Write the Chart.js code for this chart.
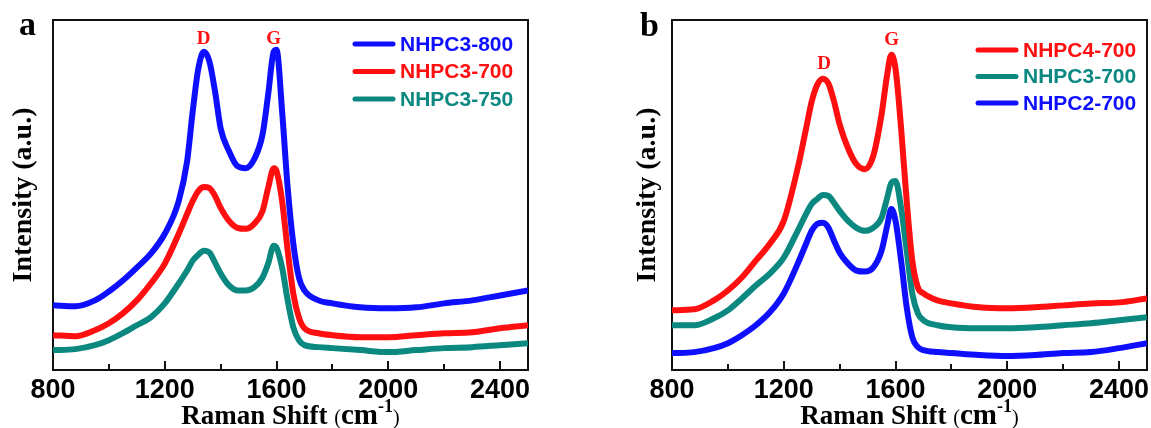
<!DOCTYPE html>
<html>
<head>
<meta charset="utf-8">
<script src="https://cdn.jsdelivr.net/npm/chart.js@4.4.0/dist/chart.umd.min.js"></script>
<style>
  html, body { margin: 0; padding: 0; background: #fff; }
  #wrap { position: relative; width: 1151px; height: 428px; }
  canvas { position: absolute; top: 0; }
  #chartA { left: 0; }
  #chartB { left: 576px; }
</style>
</head>
<body>
<div id="wrap">
  <canvas id="chartA" width="576" height="428"></canvas>
  <canvas id="chartB" width="575" height="428"></canvas>
</div>
<script>
// raman shift (cm-1) sample points
const ramanA = [800, 880, 950, 1000, 1050, 1100, 1150, 1200, 1250, 1280, 1300, 1320, 1340, 1360, 1380, 1400, 1430, 1460, 1490, 1520, 1550, 1570, 1590, 1600, 1620, 1640, 1660, 1680, 1700, 1750, 1800, 1900, 2000, 2100, 2200, 2300, 2400, 2500];
const ramanB = [800, 880, 950, 1000, 1050, 1100, 1150, 1200, 1250, 1280, 1300, 1320, 1340, 1360, 1380, 1400, 1430, 1460, 1490, 1520, 1550, 1570, 1585, 1600, 1620, 1640, 1660, 1680, 1700, 1750, 1800, 1900, 2000, 2100, 2200, 2300, 2400, 2500];

// intensities (a.u.), panel a
const nhpc3_800 = [65, 64, 70, 79, 90, 103, 117, 137, 170, 210, 260, 303, 320, 310, 280, 243, 220, 205, 203, 212, 237, 277, 320, 322, 260, 183, 127, 93, 80, 70, 67, 63, 62, 63, 67, 70, 75, 80];
const nhpc3_700a = [35, 34, 40, 47, 57, 70, 87, 107, 137, 157, 170, 180, 184, 183, 175, 163, 150, 143, 142, 147, 160, 183, 203, 200, 170, 120, 77, 53, 42, 37, 35, 33, 33, 35, 37, 38, 42, 45];
const nhpc3_750 = [20, 21, 25, 30, 37, 45, 53, 67, 87, 100, 110, 116, 120, 118, 108, 97, 85, 80, 80, 83, 93, 107, 125, 123, 103, 70, 43, 30, 25, 23, 22, 20, 18, 20, 22, 23, 25, 27];

// intensities (a.u.), panel b
const nhpc4_700 = [60, 61, 70, 80, 93, 110, 127, 150, 203, 243, 270, 287, 293, 288, 270, 247, 223, 207, 202, 215, 257, 297, 317, 303, 243, 170, 110, 83, 77, 70, 67, 63, 62, 63, 65, 67, 68, 72];
const nhpc3_700b = [45, 45, 52, 60, 72, 85, 97, 113, 140, 157, 167, 172, 176, 175, 168, 160, 150, 143, 140, 143, 153, 173, 188, 190, 163, 120, 77, 57, 50, 45, 43, 42, 42, 43, 45, 47, 50, 53];
const nhpc2_700 = [17, 18, 22, 27, 35, 45, 58, 77, 107, 127, 140, 147, 148, 143, 130, 118, 107, 100, 99, 103, 120, 145, 162, 150, 110, 63, 33, 23, 20, 18, 17, 15, 14, 15, 17, 18, 22, 27];

const labelsA = ['NHPC3-800', 'NHPC3-700', 'NHPC3-750'];
const labelsB = ['NHPC4-700', 'NHPC3-700', 'NHPC2-700'];

const majorTicks = [800, 1200, 1600, 2000, 2400];
const minorTicks = [1000, 1400, 1800, 2200];

const peakNames = ['D', 'G'];
const peaksA = [1339, 1590];
const peakYA = [333, 333];
const peaksB = [1344, 1586];
const peakYB = [308, 332];

const BLUE = '#0f0fff';
const RED = '#ff0f0f';
const TEAL = '#0b8880';
const FRAME = '#111111';

const SERIF = '"Liberation Serif", "Times New Roman", serif';
const SANS = '"Liberation Sans", Arial, sans-serif';

function pts(xs, ys) {
    return xs.map((x, i) => ({ x: x, y: ys[i] }));
}

const frameBorder = { display: true, color: FRAME, width: 2 };

const decor = {
    id: 'decor',
    afterDraw(chart, args, o) {
        const ctx = chart.ctx;
        const x = chart.scales.x;
        const y = chart.scales.y;
        const B = y.getPixelForValue(0);
        ctx.save();

        // ticks point inward
        ctx.strokeStyle = FRAME;
        ctx.lineWidth = 2;
        majorTicks.concat(minorTicks).forEach((v, i) => {
            const px = Math.round(x.getPixelForValue(v));
            ctx.beginPath();
            ctx.moveTo(px, B);
            ctx.lineTo(px, B - (i < majorTicks.length ? 9 : 6));
            ctx.stroke();
        });

        // D / G labels
        ctx.fillStyle = RED;
        ctx.font = 'bold 19px ' + SERIF;
        ctx.textAlign = 'center';
        ctx.textBaseline = 'middle';
        o.peaks.forEach((p, i) => {
            ctx.fillText(peakNames[i], x.getPixelForValue(p), y.getPixelForValue(o.peakY[i]));
        });

        // legend
        ctx.textAlign = 'left';
        ctx.font = 'bold 21px ' + SANS;
        chart.data.datasets.forEach((ds, i) => {
            const ly = o.legendY + i * o.legendGap;
            ctx.strokeStyle = ds.borderColor;
            ctx.lineWidth = 5;
            ctx.lineCap = 'round';
            ctx.beginPath();
            ctx.moveTo(o.legendX, ly);
            ctx.lineTo(o.legendX + 38, ly);
            ctx.stroke();
            ctx.fillStyle = ds.borderColor;
            ctx.fillText(ds.label, o.legendX + 45, ly + 1);
        });

        // panel letter
        ctx.fillStyle = '#000';
        ctx.textBaseline = 'alphabetic';
        ctx.font = 'bold 34px ' + SERIF;
        ctx.fillText(o.letter, o.letterX, o.letterY);

        // x axis title with small (cm-1)
        const parts = [
            { t: 'Raman Shift ', f: 'bold 27px ' + SERIF, dy: 0 },
            { t: '(', f: '20px ' + SERIF, dy: 0 },
            { t: 'cm', f: 'bold 29px ' + SERIF, dy: 0 },
            { t: '-1', f: 'bold 18px ' + SERIF, dy: -12 },
            { t: ')', f: '20px ' + SERIF, dy: 0 }
        ];
        let total = 0;
        parts.forEach(p => { ctx.font = p.f; p.w = ctx.measureText(p.t).width; total += p.w; });
        let cx = (x.left + x.right) / 2 - total / 2;
        parts.forEach(p => {
            ctx.font = p.f;
            ctx.fillText(p.t, cx, 424 + p.dy);
            cx += p.w;
        });
        ctx.restore();
    }
};

function makeChart(id, xs, series, labels, colors, o) {
    const datasets = series.map((ys, i) => ({
        label: labels[i],
        data: pts(xs, ys),
        borderColor: colors[i],
        borderWidth: 6,
        pointRadius: 0,
        fill: false,
        cubicInterpolationMode: 'monotone',
        borderJoinStyle: 'round'
    }));
    return new Chart(document.getElementById(id), {
        type: 'line',
        data: { datasets: datasets },
        options: {
            responsive: false,
            animation: false,
            devicePixelRatio: 1,
            layout: { padding: { left: 0, right: o.padRight, top: 20, bottom: 0 } },
            plugins: {
                legend: { display: false },
                tooltip: { enabled: false },
                decor: o
            },
            scales: {
                x: {
                    type: 'linear',
                    position: 'bottom',
                    min: 800,
                    max: 2500,
                    grid: { display: false, drawTicks: false },
                    border: frameBorder,
                    afterBuildTicks: s => { s.ticks = majorTicks.map(v => ({ value: v })); },
                    afterFit: s => { s.height = 58; s.paddingLeft = 0; s.paddingRight = 0; },
                    ticks: {
                        color: '#000',
                        padding: 4,
                        maxRotation: 0,
                        callback: v => String(v),
                        font: { family: SANS, size: 27, weight: 'bold' }
                    }
                },
                xTop: {
                    type: 'linear',
                    position: 'top',
                    min: 800,
                    max: 2500,
                    grid: { display: false, drawTicks: false },
                    border: frameBorder,
                    ticks: { display: false },
                    afterFit: s => { s.height = 0; s.paddingLeft = 0; s.paddingRight = 0; }
                },
                y: {
                    position: 'left',
                    min: 0,
                    max: 352,
                    grid: { display: false, drawTicks: false },
                    border: frameBorder,
                    ticks: { display: false },
                    afterFit: s => { s.width = o.yWidth; },
                    title: {
                        display: true,
                        text: 'Intensity (a.u.)',
                        color: '#000',
                        font: { family: SERIF, size: 28, weight: 'bold' },
                        padding: { top: o.yTitlePad, bottom: 0 }
                    }
                },
                yRight: {
                    position: 'right',
                    min: 0,
                    max: 352,
                    grid: { display: false, drawTicks: false },
                    border: frameBorder,
                    ticks: { display: false },
                    afterFit: s => { s.width = 0; }
                }
            }
        },
        plugins: [decor]
    });
}

makeChart('chartA', ramanA, [nhpc3_800, nhpc3_700a, nhpc3_750], labelsA, [BLUE, RED, TEAL], {
    padRight: 48, yWidth: 53, yTitlePad: 7,
    peaks: peaksA, peakY: peakYA,
    legendX: 355, legendY: 44, legendGap: 27.5,
    letter: 'a', letterX: 19, letterY: 35
});

makeChart('chartB', ramanB, [nhpc4_700, nhpc3_700b, nhpc2_700], labelsB, [RED, TEAL, BLUE], {
    padRight: 4, yWidth: 96, yTitlePad: 55,
    peaks: peaksB, peakY: peakYB,
    legendX: 402, legendY: 50, legendGap: 26.5,
    letter: 'b', letterX: 64, letterY: 36
});
</script>
</body>
</html>
